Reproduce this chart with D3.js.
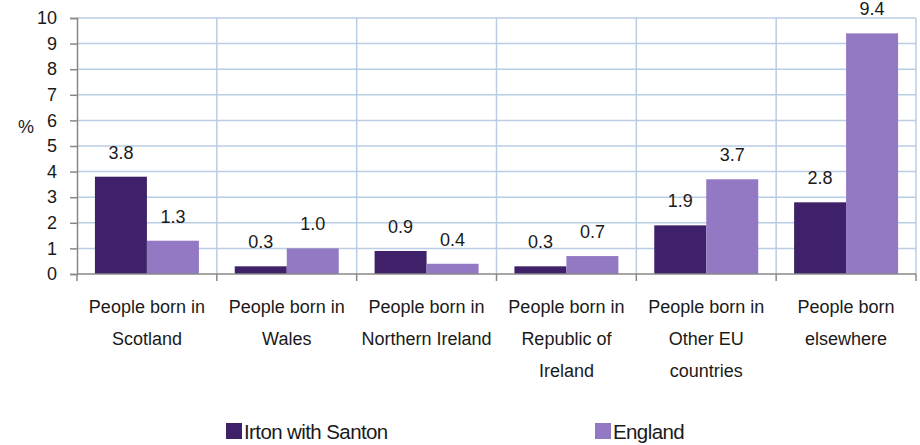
<!DOCTYPE html>
<html>
<head>
<meta charset="utf-8">
<script src="https://cdn.jsdelivr.net/npm/d3@7"></script>
<style>
  body { margin: 0; background: #fff; }
  text { font-family: "Liberation Sans", Arial, sans-serif; fill: #1a1a1a; }
</style>
</head>
<body>
<script>
var categories = [
  ["People born in", "Scotland"],
  ["People born in", "Wales"],
  ["People born in", "Northern Ireland"],
  ["People born in", "Republic of", "Ireland"],
  ["People born in", "Other EU", "countries"],
  ["People born", "elsewhere"]
];
var irton = [3.8, 0.3, 0.9, 0.3, 1.9, 2.8];
var england = [1.3, 1.0, 0.4, 0.7, 3.7, 9.4];
var series = ["Irton with Santon", "England"];
var colors = ["#3e2169", "#9378c4"];
var yTicks = [0, 1, 2, 3, 4, 5, 6, 7, 8, 9, 10];

var width = 920, height = 445;
var plotLeft = 77, plotRight = 916, plotTop = 18, plotBottom = 274;

var svg = d3.select("body").append("svg")
  .attr("width", width)
  .attr("height", height);

/******** Scales *********/
var x = d3.scaleBand()
  .domain(d3.range(categories.length))
  .range([plotLeft, plotRight])
  .paddingInner(0)
  .paddingOuter(0);

var inner = d3.scaleBand()
  .domain([0, 1])
  .range([0, x.bandwidth()])
  .paddingOuter(0.345)
  .paddingInner(0);

var y = d3.scaleLinear()
  .domain([0, 10])
  .range([plotBottom, plotTop]);

/******** Gridlines *********/
svg.append("g")
  .selectAll("line")
  .data(yTicks.slice(1))
  .enter()
  .append("line")
    .attr("x1", plotLeft)
    .attr("x2", plotRight)
    .attr("y1", function(d){ return y(d) })
    .attr("y2", function(d){ return y(d) })
    .attr("stroke", "#b9cde5")
    .attr("stroke-width", 1.5);

svg.append("g")
  .selectAll("line")
  .data(d3.range(1, categories.length + 1))
  .enter()
  .append("line")
    .attr("x1", function(d){ return x(0) + d * x.bandwidth() })
    .attr("x2", function(d){ return x(0) + d * x.bandwidth() })
    .attr("y1", plotTop)
    .attr("y2", plotBottom)
    .attr("stroke", "#b9cde5")
    .attr("stroke-width", 1.5);

/******** Bars *********/
var groups = svg.append("g")
  .selectAll("g")
  .data(categories.map(function(c, i){ return [irton[i], england[i]] }))
  .enter()
  .append("g")
    .attr("transform", function(d, i){ return "translate(" + x(i) + ",0)" });

groups.selectAll("rect")
  .data(function(d){ return d })
  .enter()
  .append("rect")
    .attr("x", function(d, j){ return inner(j) })
    .attr("width", inner.bandwidth())
    .attr("y", function(d){ return y(d) })
    .attr("height", function(d){ return plotBottom - y(d) })
    .attr("fill", function(d, j){ return colors[j] });

groups.selectAll("text")
  .data(function(d){ return d })
  .enter()
  .append("text")
    .attr("x", function(d, j){ return inner(j) + inner.bandwidth() / 2 })
    .attr("y", function(d){ return y(d) - 18 })
    .attr("text-anchor", "middle")
    .attr("font-size", "18px")
    .text(function(d){ return d.toFixed(1) });

/******** Axes *********/
var yAxis = d3.axisLeft(y)
  .tickValues(yTicks)
  .tickSize(7)
  .tickPadding(13);

svg.append("g")
  .attr("transform", "translate(" + plotLeft + ",0)")
  .call(yAxis)
  .call(function(g){
    g.select(".domain").attr("stroke", "#888").attr("stroke-width", 1.5);
    g.selectAll(".tick line").attr("stroke", "#888").attr("stroke-width", 1.5);
    g.selectAll(".tick text").attr("font-size", "18px").attr("fill", "#1a1a1a")
      .attr("font-family", "Liberation Sans, Arial, sans-serif");
  });

svg.append("line")
  .attr("x1", plotLeft)
  .attr("x2", plotRight)
  .attr("y1", plotBottom)
  .attr("y2", plotBottom)
  .attr("stroke", "#888")
  .attr("stroke-width", 1.5);

svg.append("g")
  .selectAll("line")
  .data(d3.range(0, categories.length + 1))
  .enter()
  .append("line")
    .attr("x1", function(d){ return x(0) + d * x.bandwidth() })
    .attr("x2", function(d){ return x(0) + d * x.bandwidth() })
    .attr("y1", plotBottom)
    .attr("y2", plotBottom + 7)
    .attr("stroke", "#888")
    .attr("stroke-width", 1.5);

/******** Category labels *********/
var catLabels = svg.append("g")
  .selectAll("text")
  .data(categories)
  .enter()
  .append("text")
    .attr("text-anchor", "middle")
    .attr("font-size", "18px");

catLabels.selectAll("tspan")
  .data(function(d, i){ return d.map(function(s){ return { s: s, i: i } }) })
  .enter()
  .append("tspan")
    .attr("x", function(d){ return x(d.i) + x.bandwidth() / 2 })
    .attr("y", function(d, k){ return 313 + k * 32 })
    .text(function(d){ return d.s });

svg.append("text")
  .attr("x", 26)
  .attr("y", 133)
  .attr("text-anchor", "middle")
  .attr("font-size", "18px")
  .text("%");

/******** Legend *********/
var legendX = [226, 595];
var legend = svg.append("g")
  .selectAll("g")
  .data(series)
  .enter()
  .append("g")
    .attr("transform", function(d, i){ return "translate(" + legendX[i] + ",423)" });

legend.append("rect")
  .attr("width", 16)
  .attr("height", 16)
  .attr("fill", function(d, i){ return colors[i] });

legend.append("text")
  .attr("x", 18)
  .attr("y", 16)
  .attr("font-size", "20.5px")
  .attr("letter-spacing", "-0.6px")
  .text(function(d){ return d });
</script>
</body>
</html>
